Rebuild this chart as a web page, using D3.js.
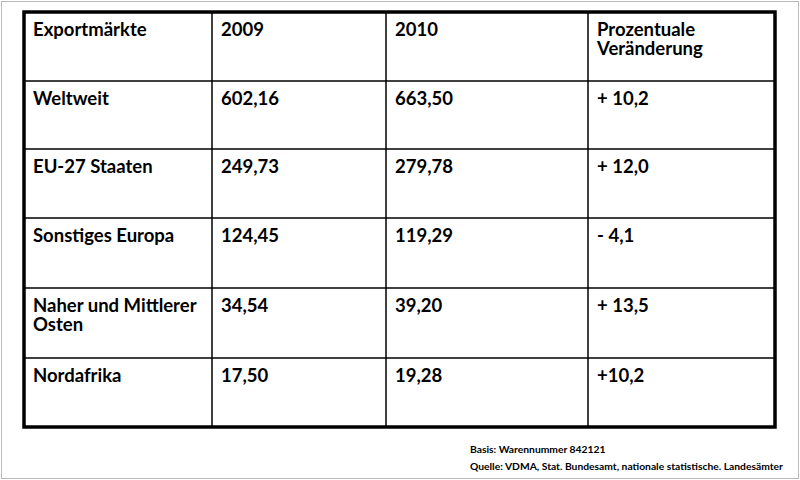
<!DOCTYPE html>
<html><head><meta charset="utf-8">
<script src="https://cdn.jsdelivr.net/npm/d3@7"></script>
<style>body{margin:0;background:#fff}</style>
</head><body>
<script>
// table data
const headers = ["Exportmärkte", "2009", "2010", "Prozentuale\nVeränderung"];
const regions = ["Weltweit", "EU-27 Staaten", "Sonstiges Europa", "Naher und Mittlerer\nOsten", "Nordafrika"];
const values2009 = ["602,16", "249,73", "124,45", "34,54", "17,50"];
const values2010 = ["663,50", "279,78", "119,29", "39,20", "19,28"];
const changes = ["+ 10,2", "+ 12,0", "- 4,1", "+ 13,5", "+10,2"];
const notes = ["Basis: Warennummer 842121", "Quelle: VDMA, Stat. Bundesamt, nationale statistische. Landesämter"];

const rows = [headers].concat(regions.map((r, i) => [r, values2009[i], values2010[i], changes[i]]));

const svg = d3.select("body").append("svg").attr("width", 800).attr("height", 480)
  .style("font-family", "Lato, 'Open Sans', sans-serif");

svg.append("rect").attr("x", 1.5).attr("y", 1.5).attr("width", 797).attr("height", 477)
  .attr("fill", "none").attr("stroke", "#bbb");

const colEdges = [24, 212, 386, 588, 775];
const rowEdges = [12, 81, 149, 218, 288, 358, 427];

svg.selectAll(".vl").data(colEdges.slice(1, -1)).join("line")
  .attr("x1", d => d).attr("x2", d => d).attr("y1", rowEdges[0]).attr("y2", rowEdges[rowEdges.length - 1])
  .attr("stroke", "#000").attr("stroke-width", 1.5);
svg.selectAll(".hl").data(rowEdges.slice(1, -1)).join("line")
  .attr("x1", colEdges[0]).attr("x2", colEdges[4]).attr("y1", d => d).attr("y2", d => d)
  .attr("stroke", "#000").attr("stroke-width", 1.5);
svg.append("rect").attr("x", colEdges[0]).attr("y", rowEdges[0])
  .attr("width", colEdges[4] - colEdges[0]).attr("height", rowEdges[6] - rowEdges[0])
  .attr("fill", "none").attr("stroke", "#000").attr("stroke-width", 3.5);

rows.forEach((row, ri) => {
  row.forEach((cell, ci) => {
    cell.split("\n").forEach((line, li) => {
      svg.append("text").attr("x", colEdges[ci] + 9).attr("y", rowEdges[ri] + 24 + li * 19)
        .attr("font-size", 18.5).attr("font-weight", "bold").attr("fill", "#000").text(line);
    });
  });
});

svg.selectAll(".note").data(notes).join("text")
  .attr("x", 470).attr("y", (d, i) => 453 + i * 17)
  .attr("font-size", 10.3).attr("font-weight", "bold").text(d => d);
</script>
</body></html>
